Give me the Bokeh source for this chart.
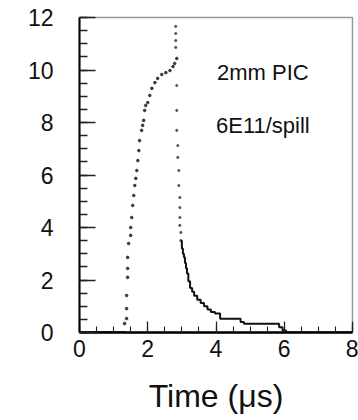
from bokeh.plotting import figure
from bokeh.models import Range1d, SingleIntervalTicker
from bokeh.core.properties import value
from bokeh.embed import file_html
from bokeh.resources import INLINE

# rising edge (dotted points)
rise_x = [1.32, 1.38, 1.38, 1.38, 1.41, 1.41, 1.41, 1.44, 1.50, 1.50, 1.53, 1.56, 1.59, 1.62,
          1.65, 1.68, 1.71, 1.74, 1.76, 1.82, 1.85, 1.88, 1.91, 1.94, 2.00, 2.06, 2.12, 2.21,
          2.29, 2.41, 2.53, 2.65, 2.74, 2.79, 2.85]
rise_y = [0.34, 0.53, 0.91, 1.41, 2.10, 2.44, 2.86, 3.39, 3.70, 4.00, 4.38, 4.84, 5.22, 5.60,
          5.87, 6.17, 6.55, 6.93, 7.31, 7.70, 7.89, 8.08, 8.46, 8.65, 8.76, 9.03, 9.30, 9.52,
          9.68, 9.83, 9.90, 9.98, 10.13, 10.25, 10.44]

# falling edge (dotted points)
fall_x = [2.82, 2.82, 2.82, 2.82, 2.85, 2.85, 2.85, 2.88, 2.88, 2.91, 2.91, 2.94, 2.94, 2.94,
          2.94, 2.97, 2.97]
fall_y = [11.66, 11.39, 11.12, 10.86, 9.41, 8.46, 7.70, 7.12, 6.67, 6.17, 5.60, 5.14, 4.76,
          4.38, 4.08, 3.81, 3.50]

# decaying tail (histogram steps)
tail_x = [2.97, 3.00, 3.03, 3.06, 3.09, 3.12, 3.15, 3.19, 3.24, 3.30, 3.36, 3.45, 3.55, 3.65,
          3.75, 3.85, 3.97, 4.12, 4.72, 4.82, 5.85, 5.95, 6.05, 8.00]
tail_y = [3.50, 3.20, 3.00, 2.87, 2.65, 2.45, 2.25, 1.95, 1.70, 1.55, 1.40, 1.25, 1.12, 1.00,
          0.88, 0.78, 0.72, 0.52, 0.40, 0.33, 0.20, 0.08, 0.00, 0.00]

base_x = [0.0, 1.35]
base_y = [0.0, 0.0]

note_text = ["2mm PIC", "6E11/spill"]
note_x = [4.03, 4.00]
note_y = [9.9, 7.89]

x_label = "Time (\u03bcs)"

FONT = "Liberation Sans"

p = figure(width=358, height=420, output_backend="svg", toolbar_location=None,
           x_range=Range1d(0, 8), y_range=Range1d(0, 12),
           min_border_left=79, min_border_right=6, min_border_top=17, min_border_bottom=88)

p.background_fill_color = "white"
p.border_fill_color = "white"
p.outline_line_color = "#999999"
p.outline_line_width = 1.5
p.xgrid.visible = False
p.ygrid.visible = False

p.line(base_x, base_y, line_color="black", line_width=2.5)
p.scatter(rise_x, rise_y, size=2.6, color="#222222", alpha=0.85)
p.scatter(fall_x, fall_y, size=2.2, color="#333333", alpha=0.75)
p.step(tail_x, tail_y, mode="after", line_color="#111111", line_width=2)

p.text(note_x, note_y, text=note_text, text_font=value(FONT), text_font_size="22px",
       text_color="#111111", text_baseline="alphabetic", text_align="left")

p.xaxis.ticker = SingleIntervalTicker(interval=2, num_minor_ticks=4)
p.yaxis.ticker = SingleIntervalTicker(interval=2, num_minor_ticks=4)

for ax in (p.xaxis[0], p.yaxis[0]):
    ax.axis_line_color = "black"
    ax.major_tick_line_color = "#222222"
    ax.minor_tick_line_color = "#222222"
    ax.major_tick_out = 0
    ax.minor_tick_out = 0
    ax.major_label_text_font = FONT
    ax.major_label_text_font_size = "23px"
    ax.major_label_text_color = "#111111"

p.xaxis.axis_line_width = 2.5
p.xaxis.major_tick_in = 11
p.xaxis.minor_tick_in = 6
p.xaxis.major_tick_line_width = 1.3
p.xaxis.minor_tick_line_width = 1.1
p.xaxis.major_label_standoff = 7

p.yaxis.axis_line_width = 2
p.yaxis.major_tick_in = 16
p.yaxis.minor_tick_in = 8
p.yaxis.major_tick_line_width = 1.5
p.yaxis.minor_tick_line_width = 1.3
p.yaxis.major_label_standoff = 26

p.xaxis.axis_label = x_label
p.xaxis.axis_label_text_font = FONT
p.xaxis.axis_label_text_font_size = "32px"
p.xaxis.axis_label_text_font_style = "normal"
p.xaxis.axis_label_text_color = "#111111"
p.xaxis.axis_label_standoff = 18

open("out.html", "w").write(file_html(p, INLINE))
